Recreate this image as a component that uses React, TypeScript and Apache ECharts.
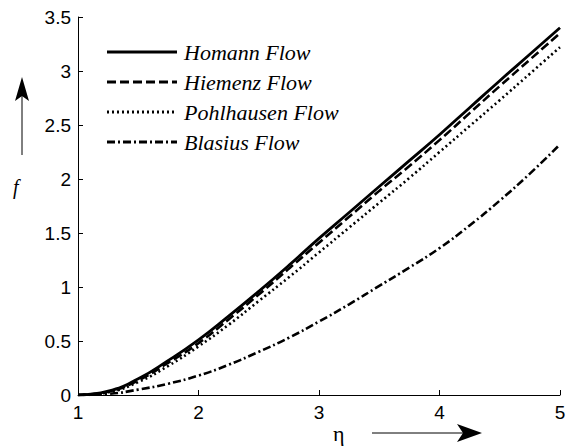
import React, { useEffect, useRef } from "react";
import * as echarts from "echarts";

const eta = [1, 1.25, 1.5, 1.75, 2, 2.25, 2.5, 2.75, 3, 3.25, 3.5, 3.75, 4, 4.25, 4.5, 4.75, 5];
const homann = [0, 0.035, 0.15, 0.32, 0.51, 0.73, 0.96, 1.2, 1.45, 1.69, 1.93, 2.17, 2.41, 2.66, 2.91, 3.155, 3.4];
const hiemenz = [0, 0.03, 0.135, 0.3, 0.48, 0.7, 0.93, 1.17, 1.41, 1.65, 1.89, 2.12, 2.36, 2.61, 2.86, 3.105, 3.35];
const pohlhausen = [0, 0.025, 0.12, 0.27, 0.45, 0.65, 0.87, 1.09, 1.32, 1.55, 1.78, 2.01, 2.25, 2.49, 2.73, 2.975, 3.22];
const blasius = [0, 0.01, 0.05, 0.105, 0.18, 0.28, 0.4, 0.53, 0.68, 0.84, 1.01, 1.18, 1.36, 1.57, 1.8, 2.05, 2.32];
const seriesNames = ["Homann Flow", "Hiemenz Flow", "Pohlhausen Flow", "Blasius Flow"];

const dashes: (string | number[])[] = ["solid", [9, 4], [2, 3], [8, 3, 2, 3]];
const widths = [2.8, 2.6, 2.6, 2.6];

export default function App() {
  const ref = useRef<HTMLDivElement>(null);
  useEffect(() => {
    document.body.style.margin = "0";
    if (!ref.current) return;
    const chart = echarts.init(ref.current, null, { renderer: "svg" });
    const all = [homann, hiemenz, pohlhausen, blasius];
    const legendTop = 52;
    const legendGap = 30;
    const legendGraphics: any[] = [];
    seriesNames.forEach((n, i) => {
      const y = legendTop + i * legendGap;
      legendGraphics.push({
        type: "line",
        shape: { x1: 107, y1: y, x2: 177, y2: y },
        style: { stroke: "#000", lineWidth: widths[i] + 0.4, lineDash: dashes[i] === "solid" ? null : dashes[i] },
      });
      legendGraphics.push({
        type: "text",
        x: 184,
        y: y,
        style: {
          text: n,
          font: "italic 22px 'Liberation Serif', 'Times New Roman', serif",
          fill: "#000",
          verticalAlign: "middle",
        },
      });
    });
    const tickFont = "'Liberation Sans', Arial, sans-serif";
    chart.setOption({
      animation: false,
      backgroundColor: "#fff",
      grid: { left: 78, right: 9, top: 17, bottom: 51, containLabel: false },
      xAxis: {
        type: "value",
        min: 1,
        max: 5,
        interval: 1,
        axisLine: { onZero: false, lineStyle: { color: "#000", width: 1 } },
        axisTick: { show: true, inside: true, length: 5, lineStyle: { color: "#000" } },
        axisLabel: { color: "#000", fontSize: 19, fontFamily: tickFont, margin: 8, showMaxLabel: true, showMinLabel: true },
        splitLine: { show: false },
      },
      yAxis: {
        type: "value",
        min: 0,
        max: 3.5,
        interval: 0.5,
        axisLine: { show: true, onZero: false, lineStyle: { color: "#000", width: 1 } },
        axisTick: { show: true, inside: true, length: 5, lineStyle: { color: "#000" } },
        axisLabel: { color: "#000", fontSize: 19, fontFamily: tickFont, margin: 7 },
        splitLine: { show: false },
      },
      series: all.map((d, i) => ({
        name: seriesNames[i],
        type: "line",
        smooth: true,
        symbol: "none",
        data: eta.map((x, j) => [x, d[j]]),
        lineStyle: { color: "#000", width: widths[i], type: dashes[i] },
      })),
      graphic: [
        ...legendGraphics,
        { type: "line", shape: { x1: 22, y1: 155, x2: 22, y2: 95 }, style: { stroke: "#000", lineWidth: 1 } },
        { type: "polygon", shape: { points: [[22, 77], [15, 101], [22, 96], [29, 101]] }, style: { fill: "#000" } },
        {
          type: "text", x: 13, y: 187,
          style: { text: "f", font: "italic 20px 'Liberation Serif', 'Times New Roman', serif", fill: "#000", verticalAlign: "middle" },
        },
        {
          type: "text", x: 333, y: 433,
          style: { text: "η", font: "22px 'Liberation Serif', 'Times New Roman', serif", fill: "#000", verticalAlign: "middle" },
        },
        { type: "line", shape: { x1: 372, y1: 433, x2: 466, y2: 433 }, style: { stroke: "#000", lineWidth: 1 } },
        { type: "polygon", shape: { points: [[482, 433], [457, 424], [463, 433], [457, 442]] }, style: { fill: "#000" } },
      ],
    });
    return () => chart.dispose();
  }, []);
  return <div ref={ref} style={{ width: 569, height: 446 }} />;
}
